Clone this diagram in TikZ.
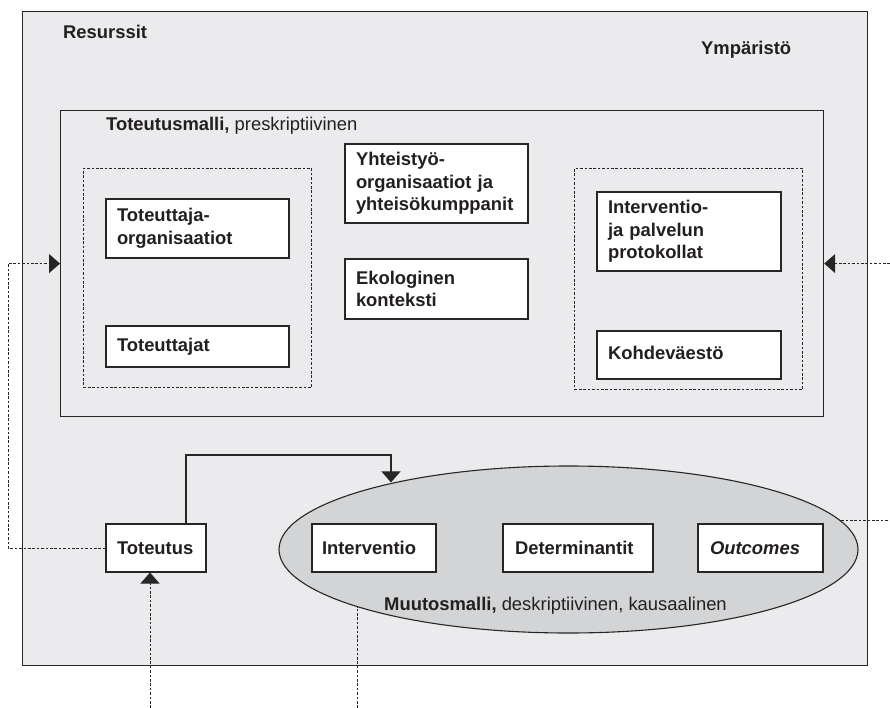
\documentclass[tikz,border=0pt]{standalone}
\usepackage{fontspec}
\setmainfont{Liberation Sans}
\usetikzlibrary{arrows.meta,shapes.geometric,calc}
\definecolor{envgray}{HTML}{EBEBED}
\definecolor{modelgray}{HTML}{D3D4D6}
\definecolor{ink}{HTML}{231F20}
\definecolor{rule}{HTML}{262626}
\newcommand{\labelfont}{\fontsize{18.4}{22.5}\selectfont}

\begin{document}
\begin{tikzpicture}[x=1pt,y=-1pt,
  every node/.style={font=\labelfont, text=ink},
  frame/.style={draw=rule, line width=1.2pt, inner sep=0pt},
  box/.style={draw=rule, line width=1.1pt, fill=white, rectangle, inner xsep=11pt, inner ysep=0pt,
              align=left, font=\labelfont\bfseries},
  group/.style={draw=rule, line width=1pt, dash pattern=on 2.6pt off 1.8pt, inner sep=0pt},
  dotline/.style={draw=rule, line width=1pt, dash pattern=on 2.6pt off 1.8pt},
  tip/.style={-{Triangle[length=11pt,width=19pt]}},
  heading/.style={anchor=base west, inner sep=0pt}
]
\useasboundingbox (0,0) rectangle (890,708);

% environment and resources frame
\node[frame, fill=envgray, minimum width=845pt, minimum height=654pt, anchor=north west] (env) at (22,11) {};
\node[heading, font=\labelfont\bfseries] (res) at (63,39) {Resurssit};
\node[heading, font=\labelfont\bfseries] (ymp) at (701,55) {Ympäristö};

% implementation model
\node[frame, fill=envgray, minimum width=763pt, minimum height=306pt, anchor=north west] (impl) at (60,110) {};
\node[heading] (impllab) at (106,131) {\textbf{Toteutusmalli,} preskriptiivinen};

\node[group, minimum width=228pt, minimum height=219pt, anchor=north west] (gleft) at (83,168) {};
\node[group, minimum width=228pt, minimum height=221pt, anchor=north west] (gright) at (574,168) {};

\node[box, text width=161pt, minimum height=59pt] (torg) at (197.5,228.5) {Toteuttaja-\\organisaatiot};
\node[box, text width=161pt, minimum height=41pt] (ttaj) at (197.5,346.5) {Toteuttajat};
\node[box, text width=161pt, minimum height=79pt] (yht) at (436.5,183.5) {Yhteistyö-\\organisaatiot ja\\yhteisökumppanit};
\node[box, text width=161pt, minimum height=60pt] (eko) at (436.5,289) {Ekologinen\\konteksti};
\node[box, text width=162pt, minimum height=79pt] (prot) at (689,231.5) {Interventio-\\ja palvelun\\protokollat};
\node[box, text width=162pt, minimum height=48pt] (kohde) at (689,355) {\raisebox{5pt}{Kohdeväestö}};

% change model
\node[ellipse, draw=rule, line width=1.1pt, fill=modelgray, minimum width=579pt, minimum height=167pt, inner sep=0pt] (chg) at (568.5,549.5) {};
\node[heading] (chglab) at (384,610) {\textbf{Muutosmalli,} deskriptiivinen, kausaalinen};
\node[box, text width=104pt, minimum height=48pt, inner xsep=10pt] (intv) at (374,548) {Interventio};
\node[box, text width=126pt, minimum height=48pt, inner xsep=12pt] (det) at (578,548) {Determinantit};
\node[box, text width=101pt, minimum height=48pt, inner xsep=12pt, font=\labelfont\bfseries\itshape] (outc) at (760.5,548) {Outcomes};

% implementation
\node[box, text width=78pt, minimum height=48pt] (tot) at (156,548) {Toteutus};

% connectors
\coordinate (lx) at (8,0);
\coordinate (rx) at (890,0);
\coordinate (b1) at (150,708);
\coordinate (b2) at (357,708);
\coordinate (bend) at (391,455);

\draw[dotline, tip] (tot.west) -| (lx |- impl.west) -- (impl.west);
\draw[dotline, tip] (rx |- impl.east) -- (impl.east);
\draw[dotline, tip] (b1) -- (b1 |- tot.south);
\draw[dotline] (b2) -- (b2 |- chg.195.08);
\draw[dotline] (chg.6.46) -- (chg.6.46 -| rx);
\draw[draw=rule, line width=1.1pt, tip] ([xshift=30pt]tot.north) |- (bend) -- (bend |- chg.159.6);
\end{tikzpicture}
\end{document}
